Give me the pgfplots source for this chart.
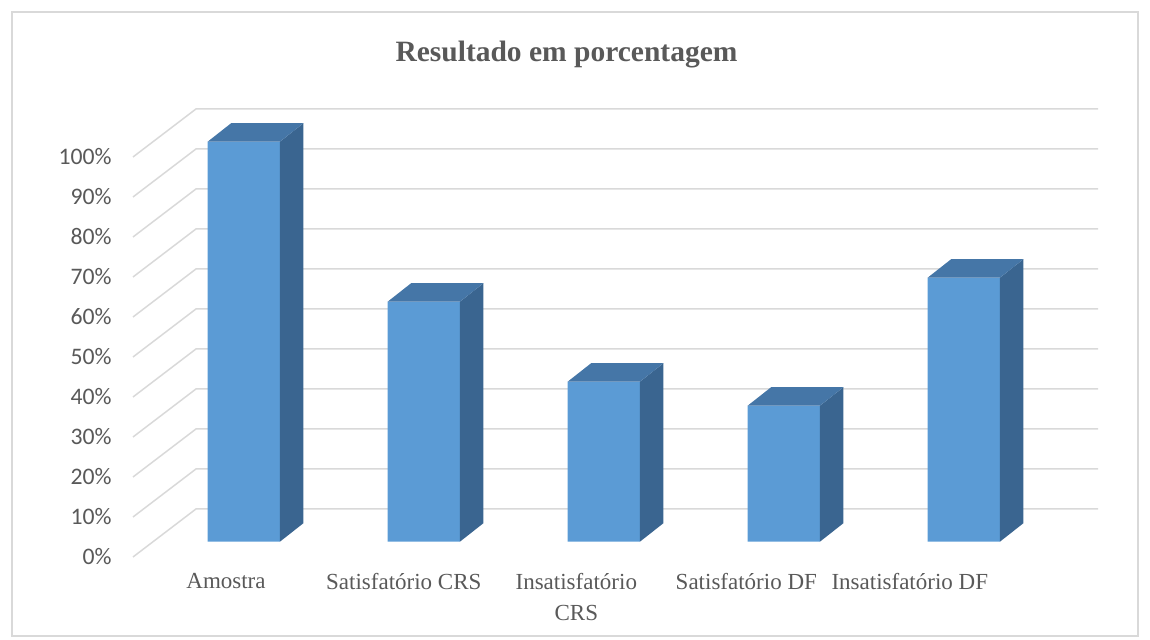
\documentclass[border=0pt]{standalone}
\usepackage{pgfplots}
\pgfplotsset{compat=1.18}
\usepackage{pgfplotstable}
\usepackage{fontspec}
\setmainfont{Liberation Serif}
\newfontfamily\calibri{Carlito}
\definecolor{frontc}{HTML}{5B9BD5}
\definecolor{topc}{HTML}{4576A7}
\definecolor{sidec}{HTML}{3A6590}
\definecolor{gridc}{HTML}{D9D9D9}
\definecolor{textc}{HTML}{595959}

\pgfplotstableread{
cat y
0 100
1 60
2 40
3 34
4 66
}\datatable

\begin{document}
\begin{tikzpicture}
\path[use as bounding box] (-66.5pt,-41.5pt) rectangle (508.5pt,278.5pt);
\draw[gridc, line width=0.6pt] (-60.5pt,-39.5pt) rectangle (502.5pt,272.5pt);
\begin{axis}[
  name=ax, at={(0,0)}, anchor=south west,
  x=90pt, y=2pt,
  xmin=-0.6156, xmax=4.7456, ymin=-3.83, ymax=108.18,
  axis line style={draw=none},
  tick style={draw=none},
  major tick length=0pt,
  clip=false,
  xtick={-0.0989,0.8889,1.8472,2.7917,3.7000},
  xticklabels={Amostra,Satisfatório CRS,{Insatisfatório\\CRS},Satisfatório DF,Insatisfatório DF},
  xticklabel style={anchor=north, inner sep=0pt, yshift=-8pt, align=center,
    font=\fontsize{11.5}{15.6}\selectfont, text=textc},
  ytick={-3.83,6.17,16.17,26.17,36.17,46.17,56.17,66.17,76.17,86.17,96.17},
  yticklabels={0\%,10\%,20\%,30\%,40\%,50\%,60\%,70\%,80\%,90\%,100\%},
  yticklabel style={anchor=east, inner sep=0pt, xshift=-10.5pt,
    font=\calibri\fontsize{11.85}{14}\selectfont, text=textc},
]
% walls: left-wall diagonals and back-wall gridlines
\pgfplotsforeachungrouped \v in {0,10,20,30,40,50,60,70,80,90,100}{%
  \pgfmathsetmacro\yb{\v+8.18}%
  \pgfmathsetmacro\yf{\v-3.83}%
  \edef\temp{\noexpand\addplot[gridc, line width=0.75pt, forget plot] coordinates {(-0.6156,\yf) (-0.2656,\yb) (4.7456,\yb)};}%
  \temp
}
% front faces of the bars
\addplot[ybar, bar width=36.15pt, bar shift=0pt, fill=frontc, draw=none, forget plot]
  table[x expr=\coordindex, y=y] {\datatable};
% side and top faces
\pgfplotsforeachungrouped \i in {0,1,2,3,4}{%
  \pgfplotstablegetelem{\i}{y}\of\datatable
  \let\v\pgfplotsretval
  \pgfmathsetmacro\xa{\i-0.2008}%
  \pgfmathsetmacro\xb{\i+0.2008}%
  \pgfmathsetmacro\xc{\i+0.3314}%
  \pgfmathsetmacro\xd{\i-0.0702}%
  \pgfmathsetmacro\yt{\v+4.625}%
  \edef\temp{\noexpand\addplot[fill=sidec, draw=none, forget plot] coordinates {(\xb,0) (\xc,4.625) (\xc,\yt) (\xb,\v)} -- cycle;
    \noexpand\addplot[fill=topc, draw=none, forget plot] coordinates {(\xa,\v) (\xb,\v) (\xc,\yt) (\xd,\yt)} -- cycle;}%
  \temp
}
\end{axis}
\node[font=\bfseries\fontsize{14.75}{18}\selectfont, text=textc] at (216.75pt,251pt) {Resultado em porcentagem};
\end{tikzpicture}
\end{document}
